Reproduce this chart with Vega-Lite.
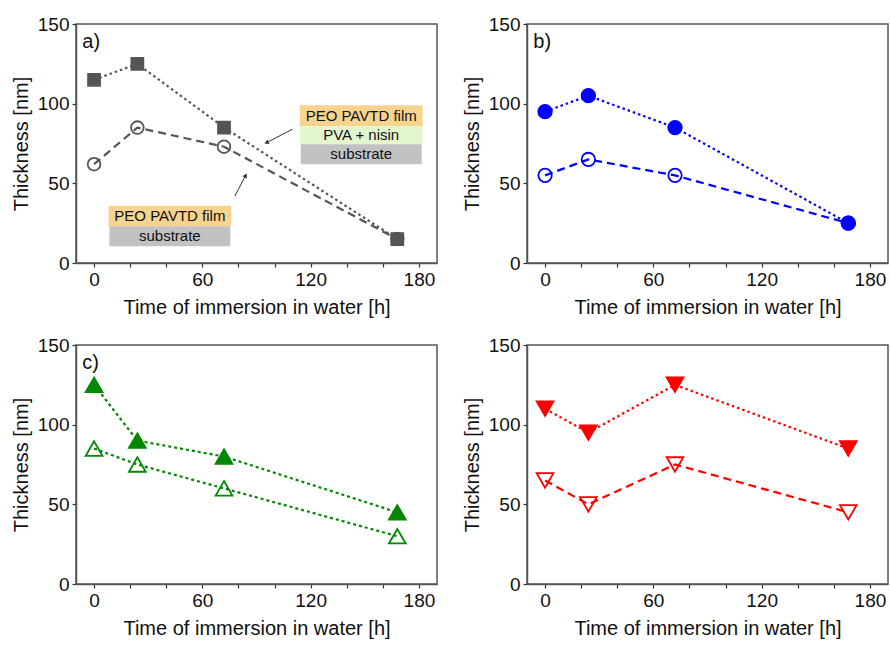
{
  "$schema": "https://vega.github.io/schema/vega-lite/v6.json",
  "padding": {"left": 10, "top": 14, "right": 0, "bottom": 0},
  "autosize": {"type": "pad"},
  "background": "white",
  "datasets": {
    "pts": [
      {"panel": "a", "series": "nisin + film", "time": 0, "thickness": 115},
      {"panel": "a", "series": "nisin + film", "time": 24, "thickness": 125},
      {"panel": "a", "series": "nisin + film", "time": 72, "thickness": 85},
      {"panel": "a", "series": "nisin + film", "time": 168, "thickness": 15},
      {"panel": "a", "series": "film", "time": 0, "thickness": 62},
      {"panel": "a", "series": "film", "time": 24, "thickness": 85},
      {"panel": "a", "series": "film", "time": 72, "thickness": 73},
      {"panel": "a", "series": "film", "time": 168, "thickness": 15},
      {"panel": "b", "series": "nisin + film", "time": 0, "thickness": 95},
      {"panel": "b", "series": "nisin + film", "time": 24, "thickness": 105},
      {"panel": "b", "series": "nisin + film", "time": 72, "thickness": 85},
      {"panel": "b", "series": "nisin + film", "time": 168, "thickness": 25},
      {"panel": "b", "series": "film", "time": 0, "thickness": 55},
      {"panel": "b", "series": "film", "time": 24, "thickness": 65},
      {"panel": "b", "series": "film", "time": 72, "thickness": 55},
      {"panel": "b", "series": "film", "time": 168, "thickness": 25},
      {"panel": "c", "series": "nisin + film", "time": 0, "thickness": 125},
      {"panel": "c", "series": "nisin + film", "time": 24, "thickness": 90},
      {"panel": "c", "series": "nisin + film", "time": 72, "thickness": 80},
      {"panel": "c", "series": "nisin + film", "time": 168, "thickness": 45},
      {"panel": "c", "series": "film", "time": 0, "thickness": 85},
      {"panel": "c", "series": "film", "time": 24, "thickness": 75},
      {"panel": "c", "series": "film", "time": 72, "thickness": 60},
      {"panel": "c", "series": "film", "time": 168, "thickness": 30},
      {"panel": "d", "series": "nisin + film", "time": 0, "thickness": 110},
      {"panel": "d", "series": "nisin + film", "time": 24, "thickness": 95},
      {"panel": "d", "series": "nisin + film", "time": 72, "thickness": 125},
      {"panel": "d", "series": "nisin + film", "time": 168, "thickness": 85},
      {"panel": "d", "series": "film", "time": 0, "thickness": 65},
      {"panel": "d", "series": "film", "time": 24, "thickness": 50},
      {"panel": "d", "series": "film", "time": 72, "thickness": 75},
      {"panel": "d", "series": "film", "time": 168, "thickness": 45}
    ]
  },
  "columns": 2,
  "spacing": {"row": 17, "column": 23},
  "resolve": {
    "scale": {"x": "independent", "y": "independent", "shape": "independent", "fill": "independent", "stroke": "independent", "strokeDash": "independent", "color": "independent"},
    "legend": {"shape": "independent", "fill": "independent", "stroke": "independent"}
  },
  "config": {
    "font": "Liberation Sans",
    "view": {"stroke": "#555", "strokeWidth": 1.5},
    "axis": {"grid": false},
    "legend": {
      "orient": "top-right", "offset": 3, "padding": 3,
      "strokeColor": "#888", "fillColor": "white",
      "titleFontSize": 15, "titleFontWeight": "normal", "titleColor": "#111", "titlePadding": 4,
      "labelFontSize": 15, "labelColor": "#111",
      "symbolSize": 100, "symbolStrokeWidth": 2, "symbolOffset": 11, "labelOffset": 17, "rowPadding": 4
    }
  },
  "concat": [
    {
      "width": 361, "height": 239,
      "layer": [
        {
          "data": {"values": [
            {"layer": "PEO PAVTD film", "x1": 114, "x2": 182, "y1": 86, "y2": 99, "xm": 148, "ym": 92.5},
            {"layer": "PVA + nisin", "x1": 114, "x2": 182, "y1": 74.5, "y2": 86, "xm": 148, "ym": 80.2},
            {"layer": "substrate", "x1": 114.5, "x2": 181.5, "y1": 62, "y2": 74.5, "xm": 148, "ym": 68.2},
            {"layer": "PEO PAVTD film", "x1": 8, "x2": 76, "y1": 23, "y2": 36, "xm": 42, "ym": 29.5},
            {"layer": "substrate", "x1": 8.5, "x2": 75.5, "y1": 10.5, "y2": 23, "xm": 42, "ym": 16.7}
          ]},
          "layer": [
            {
              "mark": {"type": "rect"},
              "encoding": {
                "x": {"field": "x1", "type": "quantitative", "scale": {"domain": [-10, 190], "nice": false, "zero": false}, "title": "Time of immersion in water [h]"},
                "x2": {"field": "x2"},
                "y": {"field": "y1", "type": "quantitative", "scale": {"domain": [0, 150], "nice": false, "zero": false}, "title": "Thickness [nm]"},
                "y2": {"field": "y2"},
                "color": {"field": "layer", "type": "nominal", "scale": {"domain": ["PEO PAVTD film", "PVA + nisin", "substrate"], "range": ["#f6d48f", "#e3f6d0", "#c2c2c2"]}, "legend": null}
              }
            },
            {
              "mark": {"type": "text", "fontSize": 15, "color": "#111"},
              "encoding": {
                "x": {"field": "xm", "type": "quantitative", "scale": {"domain": [-10, 190], "nice": false, "zero": false}, "title": "Time of immersion in water [h]"},
                "y": {"field": "ym", "type": "quantitative", "scale": {"domain": [0, 150], "nice": false, "zero": false}, "title": "Thickness [nm]"},
                "text": {"field": "layer"}
              }
            }
          ]
        },
        {
          "data": {"values": [
            {"x1": 110, "y1": 84, "x2": 95.5, "y2": 75.5},
            {"x1": 78, "y1": 42, "x2": 84, "y2": 55}
          ]},
          "mark": {"type": "rule", "color": "#333", "strokeWidth": 1},
          "encoding": {
            "x": {"field": "x1", "type": "quantitative", "scale": {"domain": [-10, 190], "nice": false, "zero": false}, "title": "Time of immersion in water [h]"},
            "y": {"field": "y1", "type": "quantitative", "scale": {"domain": [0, 150], "nice": false, "zero": false}, "title": "Thickness [nm]"},
            "x2": {"field": "x2"},
            "y2": {"field": "y2"}
          }
        },
        {
          "data": {"values": [{"x": 95.5, "y": 75.5}]},
          "mark": {"type": "point", "shape": "triangle-up", "filled": true, "color": "#333", "opacity": 1, "size": 25, "angle": 245},
          "encoding": {
            "x": {"field": "x", "type": "quantitative", "scale": {"domain": [-10, 190], "nice": false, "zero": false}, "title": "Time of immersion in water [h]"},
            "y": {"field": "y", "type": "quantitative", "scale": {"domain": [0, 150], "nice": false, "zero": false}, "title": "Thickness [nm]"}
          }
        },
        {
          "data": {"values": [{"x": 84, "y": 55}]},
          "mark": {"type": "point", "shape": "triangle-up", "filled": true, "color": "#333", "opacity": 1, "size": 25, "angle": 27},
          "encoding": {
            "x": {"field": "x", "type": "quantitative", "scale": {"domain": [-10, 190], "nice": false, "zero": false}, "title": "Time of immersion in water [h]"},
            "y": {"field": "y", "type": "quantitative", "scale": {"domain": [0, 150], "nice": false, "zero": false}, "title": "Thickness [nm]"}
          }
        },
        {
          "data": {"name": "pts"},
          "transform": [{"filter": "datum.panel === 'a'"}],
          "mark": {"type": "line", "color": "#555", "strokeWidth": 2.2},
          "encoding": {
            "x": {"field": "time", "type": "quantitative", "scale": {"domain": [-10, 190], "nice": false, "zero": false}, "title": "Time of immersion in water [h]",
              "axis": {"values": [0, 10, 20, 30, 40, 50, 60, 70, 80, 90, 100, 110, 120, 130, 140, 150, 160, 170, 180], "labelExpr": "datum.value % 60 === 0 ? datum.label : ''", "domainColor": "#555", "domainWidth": 1.5, "tickColor": "#333", "tickWidth": 1.2, "tickSize": 4, "labelFontSize": 19, "labelColor": "#111", "labelPadding": 3, "labelFlush": false, "titleFontSize": 20, "titleFontWeight": "normal", "titleColor": "#111", "titlePadding": 8}},
            "y": {"field": "thickness", "type": "quantitative", "scale": {"domain": [0, 150], "nice": false, "zero": false}, "title": "Thickness [nm]",
              "axis": {"values": [0, 25, 50, 75, 100, 125, 150], "labelExpr": "datum.value % 50 === 0 ? datum.label : ''", "domainColor": "#555", "domainWidth": 1.5, "tickColor": "#333", "tickWidth": 1.2, "tickSize": 4, "labelFontSize": 19, "labelColor": "#111", "labelPadding": 3, "titleFontSize": 20, "titleFontWeight": "normal", "titleColor": "#111", "titlePadding": 6}},
            "strokeDash": {"field": "series", "type": "nominal", "scale": {"domain": ["nisin + film", "film"], "range": [[2.5, 3], [8, 5]]}, "legend": null}
          }
        },
        {
          "data": {"name": "pts"},
          "transform": [{"filter": "datum.panel === 'a' && datum.series === 'nisin + film'"}],
          "mark": {"type": "point", "shape": "square", "filled": true, "color": "#555", "stroke": "#555", "strokeWidth": 1.5, "size": 150, "opacity": 1},
          "encoding": {
            "x": {"field": "time", "type": "quantitative", "scale": {"domain": [-10, 190], "nice": false, "zero": false}, "title": "Time of immersion in water [h]"},
            "y": {"field": "thickness", "type": "quantitative", "scale": {"domain": [0, 150], "nice": false, "zero": false}, "title": "Thickness [nm]"}
          }
        },
        {
          "data": {"name": "pts"},
          "transform": [{"filter": "datum.panel === 'a' && datum.series === 'film'"}],
          "mark": {"type": "point", "shape": "circle", "filled": false, "color": "#555", "strokeWidth": 1.8, "size": 160, "opacity": 1},
          "encoding": {
            "x": {"field": "time", "type": "quantitative", "scale": {"domain": [-10, 190], "nice": false, "zero": false}, "title": "Time of immersion in water [h]"},
            "y": {"field": "thickness", "type": "quantitative", "scale": {"domain": [0, 150], "nice": false, "zero": false}, "title": "Thickness [nm]"}
          }
        },
        {
          "data": {"name": "pts"},
          "transform": [{"filter": "datum.panel === 'a' && datum.time > 1000"}],
          "mark": {"type": "point", "filled": true, "size": 100, "strokeWidth": 2, "opacity": 1},
          "encoding": {
            "x": {"field": "time", "type": "quantitative", "scale": {"domain": [-10, 190], "nice": false, "zero": false}, "title": "Time of immersion in water [h]"},
            "y": {"field": "thickness", "type": "quantitative", "scale": {"domain": [0, 150], "nice": false, "zero": false}, "title": "Thickness [nm]"},
            "shape": {"field": "series", "type": "nominal", "scale": {"domain": ["nisin + film", "film"], "range": ["M-3.4,0H-2.9M-2.3,0H-1.8M1.8,0H2.3M2.9,0H3.4M-1.2,-1.2H1.2V1.2H-1.2Z", "M-3.4,0H-1.3M0,0H1.3M2.4,0H3M-1.3,0A1.3,1.3,0,1,1,1.3,0A1.3,1.3,0,1,1,-1.3,0Z"]}, "legend": {"title": "PEO PAVTD 0W"}},
            "fill": {"field": "series", "type": "nominal", "scale": {"domain": ["nisin + film", "film"], "range": ["#555", "transparent"]}, "legend": {"title": "PEO PAVTD 0W"}},
            "stroke": {"field": "series", "type": "nominal", "scale": {"domain": ["nisin + film", "film"], "range": ["#555", "#555"]}, "legend": {"title": "PEO PAVTD 0W"}}
          }
        },
        {
          "data": {"values": [{"label": "a)", "lx": -6.5, "ly": 139}]},
          "mark": {"type": "text", "align": "left", "baseline": "middle", "fontSize": 20, "color": "#111"},
          "encoding": {
            "x": {"field": "lx", "type": "quantitative", "scale": {"domain": [-10, 190], "nice": false, "zero": false}, "title": "Time of immersion in water [h]"},
            "y": {"field": "ly", "type": "quantitative", "scale": {"domain": [0, 150], "nice": false, "zero": false}, "title": "Thickness [nm]"},
            "text": {"field": "label"}
          }
        }
      ]
    },
    {
      "width": 361, "height": 239,
      "layer": [
        {
          "data": {"name": "pts"},
          "transform": [{"filter": "datum.panel === 'b'"}],
          "mark": {"type": "line", "color": "#0000ff", "strokeWidth": 2.2},
          "encoding": {
            "x": {"field": "time", "type": "quantitative", "scale": {"domain": [-10, 190], "nice": false, "zero": false}, "title": "Time of immersion in water [h]",
              "axis": {"values": [0, 10, 20, 30, 40, 50, 60, 70, 80, 90, 100, 110, 120, 130, 140, 150, 160, 170, 180], "labelExpr": "datum.value % 60 === 0 ? datum.label : ''", "domainColor": "#555", "domainWidth": 1.5, "tickColor": "#333", "tickWidth": 1.2, "tickSize": 4, "labelFontSize": 19, "labelColor": "#111", "labelPadding": 3, "labelFlush": false, "titleFontSize": 20, "titleFontWeight": "normal", "titleColor": "#111", "titlePadding": 8}},
            "y": {"field": "thickness", "type": "quantitative", "scale": {"domain": [0, 150], "nice": false, "zero": false}, "title": "Thickness [nm]",
              "axis": {"values": [0, 25, 50, 75, 100, 125, 150], "labelExpr": "datum.value % 50 === 0 ? datum.label : ''", "domainColor": "#555", "domainWidth": 1.5, "tickColor": "#333", "tickWidth": 1.2, "tickSize": 4, "labelFontSize": 19, "labelColor": "#111", "labelPadding": 3, "titleFontSize": 20, "titleFontWeight": "normal", "titleColor": "#111", "titlePadding": 6}},
            "strokeDash": {"field": "series", "type": "nominal", "scale": {"domain": ["nisin + film", "film"], "range": [[2.5, 3], [8, 5]]}, "legend": null}
          }
        },
        {
          "data": {"name": "pts"},
          "transform": [{"filter": "datum.panel === 'b' && datum.series === 'nisin + film'"}],
          "mark": {"type": "point", "shape": "circle", "filled": true, "color": "#0000ff", "stroke": "#0000ff", "strokeWidth": 1.5, "size": 190, "opacity": 1},
          "encoding": {
            "x": {"field": "time", "type": "quantitative", "scale": {"domain": [-10, 190], "nice": false, "zero": false}, "title": "Time of immersion in water [h]"},
            "y": {"field": "thickness", "type": "quantitative", "scale": {"domain": [0, 150], "nice": false, "zero": false}, "title": "Thickness [nm]"}
          }
        },
        {
          "data": {"name": "pts"},
          "transform": [{"filter": "datum.panel === 'b' && datum.series === 'film'"}],
          "mark": {"type": "point", "shape": "circle", "filled": false, "color": "#0000ff", "strokeWidth": 1.8, "size": 180, "opacity": 1},
          "encoding": {
            "x": {"field": "time", "type": "quantitative", "scale": {"domain": [-10, 190], "nice": false, "zero": false}, "title": "Time of immersion in water [h]"},
            "y": {"field": "thickness", "type": "quantitative", "scale": {"domain": [0, 150], "nice": false, "zero": false}, "title": "Thickness [nm]"}
          }
        },
        {
          "data": {"name": "pts"},
          "transform": [{"filter": "datum.panel === 'b' && datum.time > 1000"}],
          "mark": {"type": "point", "filled": true, "size": 100, "strokeWidth": 2, "opacity": 1},
          "encoding": {
            "shape": {"field": "series", "type": "nominal", "scale": {"domain": ["nisin + film", "film"], "range": ["M-3.4,0H-2.9M-2.3,0H-1.8M1.8,0H2.3M2.9,0H3.4M-1.4,0A1.4,1.4,0,1,1,1.4,0A1.4,1.4,0,1,1,-1.4,0Z", "M-3.4,0H-1.3M0,0H1.3M2.4,0H3M-1.3,0A1.3,1.3,0,1,1,1.3,0A1.3,1.3,0,1,1,-1.3,0Z"]}, "legend": {"title": "PEO PAVTD 5W"}},
            "fill": {"field": "series", "type": "nominal", "scale": {"domain": ["nisin + film", "film"], "range": ["#0000ff", "transparent"]}, "legend": {"title": "PEO PAVTD 5W"}},
            "stroke": {"field": "series", "type": "nominal", "scale": {"domain": ["nisin + film", "film"], "range": ["#0000ff", "#0000ff"]}, "legend": {"title": "PEO PAVTD 5W"}}
          }
        },
        {
          "data": {"values": [{"label": "b)", "lx": -6.5, "ly": 139}]},
          "mark": {"type": "text", "align": "left", "baseline": "middle", "fontSize": 20, "color": "#111"},
          "encoding": {
            "x": {"field": "lx", "type": "quantitative", "scale": {"domain": [-10, 190], "nice": false, "zero": false}, "title": "Time of immersion in water [h]"},
            "y": {"field": "ly", "type": "quantitative", "scale": {"domain": [0, 150], "nice": false, "zero": false}, "title": "Thickness [nm]"},
            "text": {"field": "label"}
          }
        }
      ]
    },
    {
      "width": 361, "height": 239,
      "layer": [
        {
          "data": {"name": "pts"},
          "transform": [{"filter": "datum.panel === 'c'"}],
          "mark": {"type": "line", "color": "#008800", "strokeWidth": 2.2},
          "encoding": {
            "x": {"field": "time", "type": "quantitative", "scale": {"domain": [-10, 190], "nice": false, "zero": false}, "title": "Time of immersion in water [h]",
              "axis": {"values": [0, 10, 20, 30, 40, 50, 60, 70, 80, 90, 100, 110, 120, 130, 140, 150, 160, 170, 180], "labelExpr": "datum.value % 60 === 0 ? datum.label : ''", "domainColor": "#555", "domainWidth": 1.5, "tickColor": "#333", "tickWidth": 1.2, "tickSize": 4, "labelFontSize": 19, "labelColor": "#111", "labelPadding": 3, "labelFlush": false, "titleFontSize": 20, "titleFontWeight": "normal", "titleColor": "#111", "titlePadding": 8}},
            "y": {"field": "thickness", "type": "quantitative", "scale": {"domain": [0, 150], "nice": false, "zero": false}, "title": "Thickness [nm]",
              "axis": {"values": [0, 25, 50, 75, 100, 125, 150], "labelExpr": "datum.value % 50 === 0 ? datum.label : ''", "domainColor": "#555", "domainWidth": 1.5, "tickColor": "#333", "tickWidth": 1.2, "tickSize": 4, "labelFontSize": 19, "labelColor": "#111", "labelPadding": 3, "titleFontSize": 20, "titleFontWeight": "normal", "titleColor": "#111", "titlePadding": 6}},
            "strokeDash": {"field": "series", "type": "nominal", "scale": {"domain": ["nisin + film", "film"], "range": [[3, 3], [3, 3]]}, "legend": null}
          }
        },
        {
          "data": {"name": "pts"},
          "transform": [{"filter": "datum.panel === 'c' && datum.series === 'nisin + film'"}],
          "mark": {"type": "point", "shape": "triangle-up", "filled": true, "color": "#008800", "stroke": "#008800", "strokeWidth": 1.5, "size": 300, "opacity": 1},
          "encoding": {
            "x": {"field": "time", "type": "quantitative"},
            "y": {"field": "thickness", "type": "quantitative"}
          }
        },
        {
          "data": {"name": "pts"},
          "transform": [{"filter": "datum.panel === 'c' && datum.series === 'film'"}],
          "mark": {"type": "point", "shape": "triangle-up", "filled": false, "color": "#008800", "strokeWidth": 1.8, "size": 280, "opacity": 1},
          "encoding": {
            "x": {"field": "time", "type": "quantitative"},
            "y": {"field": "thickness", "type": "quantitative"}
          }
        },
        {
          "data": {"name": "pts"},
          "transform": [{"filter": "datum.panel === 'c' && datum.time > 1000"}],
          "mark": {"type": "point", "filled": true, "size": 100, "strokeWidth": 2, "opacity": 1},
          "encoding": {
            "x": {"field": "time", "type": "quantitative"},
            "y": {"field": "thickness", "type": "quantitative"},
            "shape": {"field": "series", "type": "nominal", "scale": {"domain": ["nisin + film", "film"], "range": ["M-3.4,0H-2.9M-2.3,0H-1.8M1.8,0H2.3M2.9,0H3.4M0,-1.5L1.6,1.1H-1.6Z", "M-3.4,0H-2.9M-2.3,0H-1.8M1.8,0H2.3M2.9,0H3.4M0,-1.5L1.6,1.1H-1.6Z"]}, "legend": {"title": "PEO PAVTD 10W"}},
            "fill": {"field": "series", "type": "nominal", "scale": {"domain": ["nisin + film", "film"], "range": ["#008800", "transparent"]}, "legend": {"title": "PEO PAVTD 10W"}},
            "stroke": {"field": "series", "type": "nominal", "scale": {"domain": ["nisin + film", "film"], "range": ["#008800", "#008800"]}, "legend": {"title": "PEO PAVTD 10W"}}
          }
        },
        {
          "data": {"values": [{"label": "c)", "lx": -6.5, "ly": 139}]},
          "mark": {"type": "text", "align": "left", "baseline": "middle", "fontSize": 20, "color": "#111"},
          "encoding": {
            "x": {"field": "lx", "type": "quantitative"},
            "y": {"field": "ly", "type": "quantitative"},
            "text": {"field": "label"}
          }
        }
      ]
    },
    {
      "width": 361, "height": 239,
      "layer": [
        {
          "data": {"name": "pts"},
          "transform": [{"filter": "datum.panel === 'd'"}],
          "mark": {"type": "line", "color": "#ff0000", "strokeWidth": 2.2},
          "encoding": {
            "x": {"field": "time", "type": "quantitative", "scale": {"domain": [-10, 190], "nice": false, "zero": false}, "title": "Time of immersion in water [h]",
              "axis": {"values": [0, 10, 20, 30, 40, 50, 60, 70, 80, 90, 100, 110, 120, 130, 140, 150, 160, 170, 180], "labelExpr": "datum.value % 60 === 0 ? datum.label : ''", "domainColor": "#555", "domainWidth": 1.5, "tickColor": "#333", "tickWidth": 1.2, "tickSize": 4, "labelFontSize": 19, "labelColor": "#111", "labelPadding": 3, "labelFlush": false, "titleFontSize": 20, "titleFontWeight": "normal", "titleColor": "#111", "titlePadding": 8}},
            "y": {"field": "thickness", "type": "quantitative", "scale": {"domain": [0, 150], "nice": false, "zero": false}, "title": "Thickness [nm]",
              "axis": {"values": [0, 25, 50, 75, 100, 125, 150], "labelExpr": "datum.value % 50 === 0 ? datum.label : ''", "domainColor": "#555", "domainWidth": 1.5, "tickColor": "#333", "tickWidth": 1.2, "tickSize": 4, "labelFontSize": 19, "labelColor": "#111", "labelPadding": 3, "titleFontSize": 20, "titleFontWeight": "normal", "titleColor": "#111", "titlePadding": 6}},
            "strokeDash": {"field": "series", "type": "nominal", "scale": {"domain": ["nisin + film", "film"], "range": [[2.5, 3], [8, 5]]}, "legend": null}
          }
        },
        {
          "data": {"name": "pts"},
          "transform": [{"filter": "datum.panel === 'd' && datum.series === 'nisin + film'"}],
          "mark": {"type": "point", "shape": "triangle-down", "filled": true, "color": "#ff0000", "stroke": "#ff0000", "strokeWidth": 1.5, "size": 300, "opacity": 1},
          "encoding": {
            "x": {"field": "time", "type": "quantitative"},
            "y": {"field": "thickness", "type": "quantitative"}
          }
        },
        {
          "data": {"name": "pts"},
          "transform": [{"filter": "datum.panel === 'd' && datum.series === 'film'"}],
          "mark": {"type": "point", "shape": "triangle-down", "filled": false, "color": "#ff0000", "strokeWidth": 1.8, "size": 280, "opacity": 1},
          "encoding": {
            "x": {"field": "time", "type": "quantitative"},
            "y": {"field": "thickness", "type": "quantitative"}
          }
        },
        {
          "data": {"name": "pts"},
          "transform": [{"filter": "datum.panel === 'd' && datum.time > 1000"}],
          "mark": {"type": "point", "filled": true, "size": 100, "strokeWidth": 2, "opacity": 1},
          "encoding": {
            "shape": {"field": "series", "type": "nominal", "scale": {"domain": ["nisin + film", "film"], "range": ["M-3.4,0H-2.9M-2.3,0H-1.8M1.8,0H2.3M2.9,0H3.4M0,1.5L1.6,-1.1H-1.6Z", "M-3.4,0H-1.3M2.4,0H3M0,1.5L1.6,-1.1H-1.6Z"]}, "legend": {"title": "PEO PAVTD 30W"}},
            "fill": {"field": "series", "type": "nominal", "scale": {"domain": ["nisin + film", "film"], "range": ["#ff0000", "transparent"]}, "legend": {"title": "PEO PAVTD 30W"}},
            "stroke": {"field": "series", "type": "nominal", "scale": {"domain": ["nisin + film", "film"], "range": ["#ff0000", "#ff0000"]}, "legend": {"title": "PEO PAVTD 30W"}}
          }
        }
      ]
    }
  ]
}
